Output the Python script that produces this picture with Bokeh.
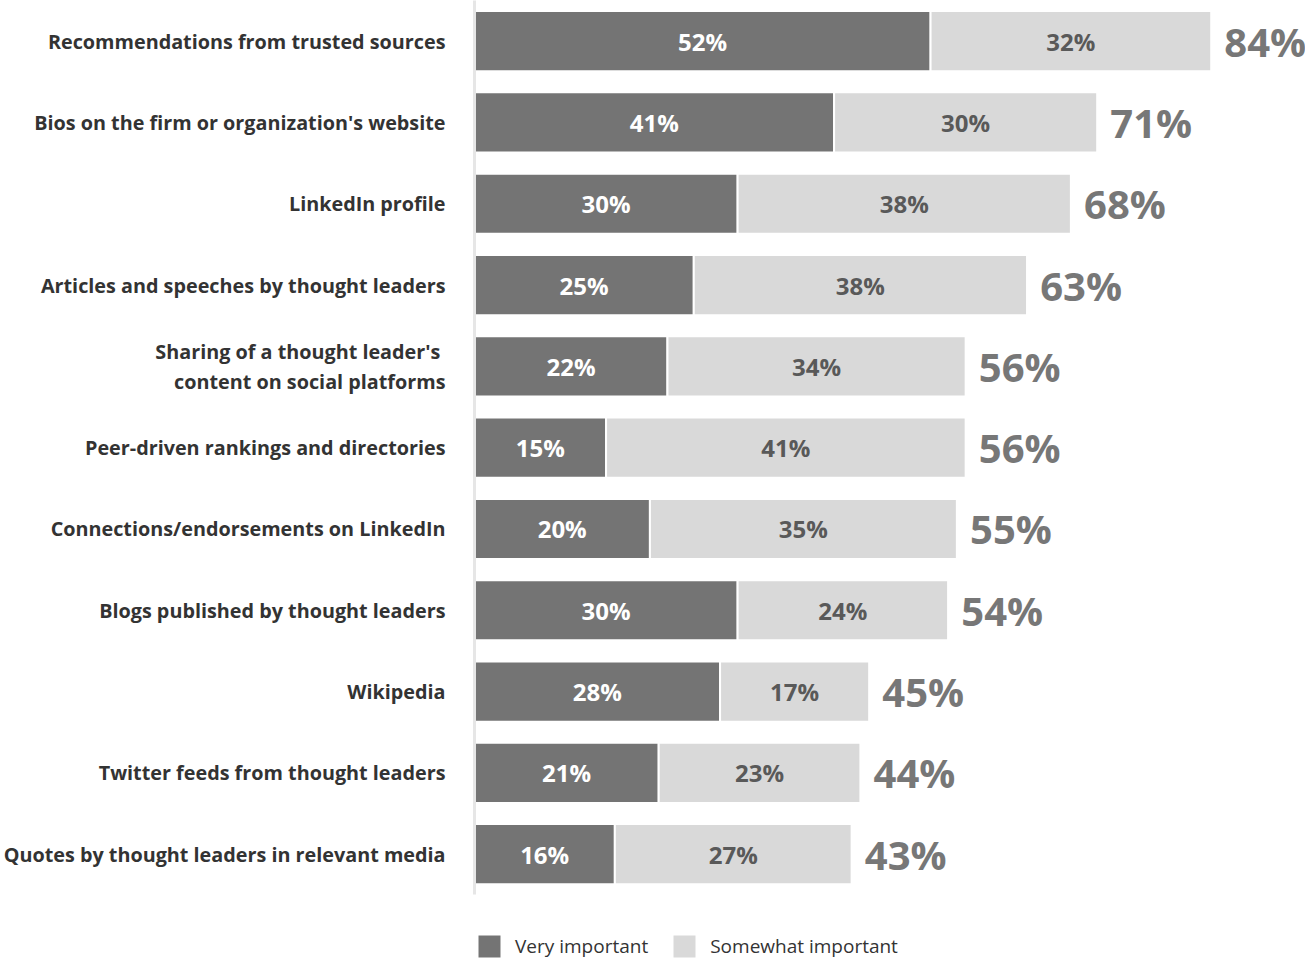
from bokeh.plotting import figure
from bokeh.models import Range1d, FixedTicker, Legend, LegendItem, ColumnDataSource
from bokeh.core.properties import value
from bokeh.embed import file_html
from bokeh.resources import INLINE

categories = [
    "Recommendations from trusted sources",
    "Bios on the firm or organization's website",
    "LinkedIn profile",
    "Articles and speeches by thought leaders",
    "Sharing of a thought leader's \ncontent on social platforms",
    "Peer-driven rankings and directories",
    "Connections/endorsements on LinkedIn",
    "Blogs published by thought leaders",
    "Wikipedia",
    "Twitter feeds from thought leaders",
    "Quotes by thought leaders in relevant media",
]
very_important = [52, 41, 30, 25, 22, 15, 20, 30, 28, 21, 16]
somewhat_important = [32, 30, 38, 38, 34, 41, 35, 24, 17, 23, 27]
totals = [84, 71, 68, 63, 56, 56, 55, 54, 45, 44, 43]
series_names = ["Very important", "Somewhat important"]

DARK = "#747474"
LIGHT = "#d9d9d9"
FONT = "Open Sans"

n = len(categories)
ypos = [n - 1 - i for i in range(n)]   # first category at the top

src = ColumnDataSource(dict(
    y=ypos,
    very=very_important,
    some=somewhat_important,
    very_mid=[v / 2 for v in very_important],
    some_mid=[v + s / 2 for v, s in zip(very_important, somewhat_important)],
    tot_x=[t + 1.5 for t in totals],
    very_lbl=[f"{v}%" for v in very_important],
    some_lbl=[f"{s}%" for s in somewhat_important],
    tot_lbl=[f"{t}%" for t in totals],
))

p = figure(
    frame_width=831, frame_height=961,
    y_range=Range1d(-1.32, n - 0.5),
    x_range=Range1d(0, 94.75),
    output_backend="svg", toolbar_location=None,
    min_border_left=473, min_border_right=0, min_border_top=0, min_border_bottom=0,
)
p.outline_line_color = None
p.grid.visible = False
p.xaxis.visible = False

yax = p.yaxis[0]
yax.ticker = FixedTicker(ticks=ypos)
yax.major_label_overrides = {y: c for y, c in zip(ypos, categories)}
yax.bounds = (-0.5, n - 0.5)
yax.axis_line_color = "#e6e6e6"
yax.axis_line_width = 3
yax.major_tick_line_color = None
yax.minor_tick_line_color = None
yax.major_label_standoff = 23
yax.major_label_text_font = FONT
yax.major_label_text_font_style = "bold"
yax.major_label_text_font_size = "19.8px"
yax.major_label_text_color = "#333333"
yax.major_label_text_line_height = 1.1

rs = p.hbar_stack(["very", "some"], y="y", height=0.74, source=src,
                  fill_color=[DARK, LIGHT], line_color="white", line_width=2)

p.text(x="very_mid", y="y", text="very_lbl", source=src, text_align="center",
       text_baseline="middle", text_font=value(FONT), text_font_style="bold",
       text_font_size="24px", text_color="white")
p.text(x="some_mid", y="y", text="some_lbl", source=src, text_align="center",
       text_baseline="middle", text_font=value(FONT), text_font_style="bold",
       text_font_size="24px", text_color="#595959")
p.text(x="tot_x", y="y", text="tot_lbl", source=src, text_align="left",
       text_baseline="middle", text_font=value(FONT), text_font_style="bold",
       text_font_size="40px", text_color="#777777")

legend = Legend(
    items=[LegendItem(label=series_names[0], renderers=[rs[0]]),
           LegendItem(label=series_names[1], renderers=[rs[1]])],
    orientation="horizontal", location=(0, 0),
    glyph_width=30, glyph_height=30, label_standoff=11, spacing=21,
    padding=0, margin=0, border_line_color=None, background_fill_alpha=0,
    label_text_font=FONT, label_text_font_size="19px", label_text_color="#333333",
)
p.add_layout(legend, "center")

open("out.html", "w").write(file_html(p, INLINE))
